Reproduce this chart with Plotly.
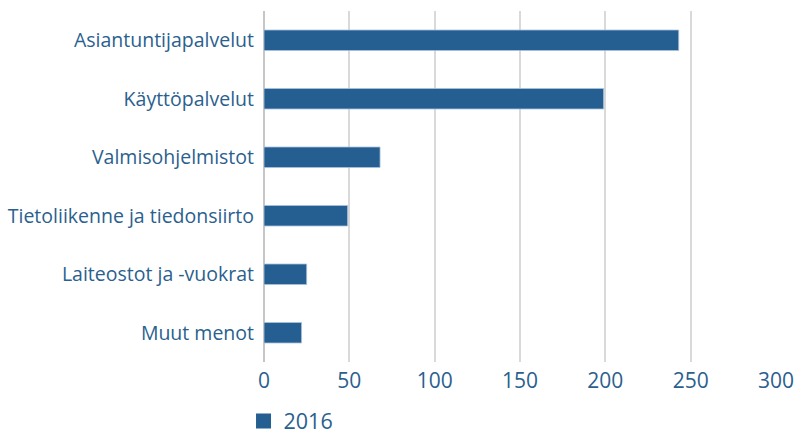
import plotly.graph_objects as go

categories = ["Asiantuntijapalvelut", "Käyttöpalvelut", "Valmisohjelmistot",
              "Tietoliikenne ja tiedonsiirto", "Laiteostot ja -vuokrat", "Muut menot"]
values_2016 = [243, 199, 68, 49, 25, 22]
series_name = "2016"
x_ticks = [0, 50, 100, 150, 200, 250, 300]

TEXT = "#2b5f8e"
BAR = "#255e91"
GRID = "#d9d9d9"

fig = go.Figure()
fig.add_trace(go.Bar(
    y=categories, x=values_2016, orientation="h", name=series_name,
    marker=dict(color=BAR, line=dict(color="#a9c2dc", width=0.8)),
    width=0.35, showlegend=False,
))
# legend entry (square swatch)
fig.add_trace(go.Scatter(
    x=[None], y=[None], mode="markers", name=series_name,
    marker=dict(symbol="square", size=15, color=BAR), showlegend=True,
))
fig.update_layout(
    width=798, height=432,
    margin=dict(l=264, r=22, t=11, b=70, autoexpand=False),
    paper_bgcolor="white", plot_bgcolor="white",
    font=dict(family="Open Sans", size=19, color=TEXT),
    showlegend=True,
    legend=dict(orientation="h", x=-0.04, xanchor="left", y=-0.11, yanchor="top",
                font=dict(size=21.5, color=TEXT), itemwidth=30),
    xaxis=dict(range=[0, 300], tickvals=x_ticks, showgrid=True, gridcolor=GRID,
               gridwidth=2, zeroline=True, zerolinecolor="#c6c6c6", zerolinewidth=2,
               showline=False, ticks="", ticklabelstandoff=4,
               automargin=False, tickfont=dict(size=21, color=TEXT)),
    yaxis=dict(categoryorder="array", categoryarray=categories[::-1],
               showgrid=False, ticks="", ticklabelstandoff=9, automargin=False,
               tickfont=dict(size=19.5, color=TEXT)),
)
fig.write_html("out.html", config={"displayModeBar": False},
               post_script="document.body.style.margin='0';document.body.style.overflow='hidden';")
